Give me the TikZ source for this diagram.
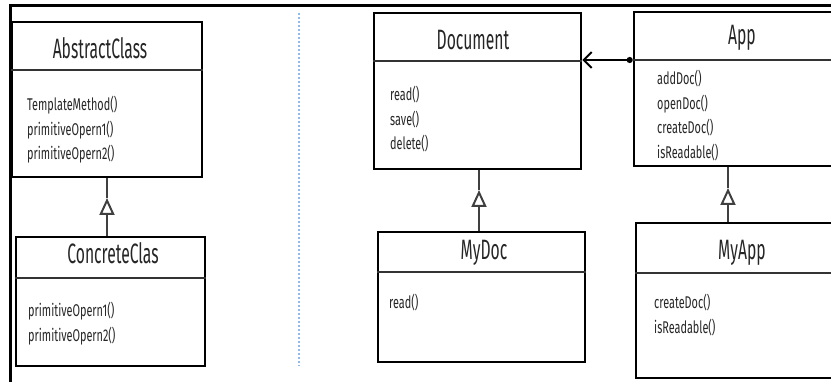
\documentclass[tikz,border=0pt]{standalone}
\usepackage{fontspec}
\usepackage{tikz}
\usetikzlibrary{arrows.meta, positioning}
\newfontfamily\titlefont{Fira Sans}[FakeStretch=0.56]
\newfontfamily\opfont{Fira Sans}[FakeStretch=0.64]
\definecolor{inkgray}{HTML}{262626}
\definecolor{sepblue}{HTML}{8DBBEA}

\begin{document}
\begin{tikzpicture}[x=1pt, y=-1pt, >=Stealth,
    cls/.style={rectangle, draw=black, line width=2.6pt, inner sep=0pt},
    clstitle/.style={anchor=base, inner sep=0pt, text=inkgray, font=\titlefont\fontsize{28}{32}\selectfont},
    ops/.style={anchor=north west, inner sep=0pt, align=left, text=inkgray, font=\opfont\fontsize{17}{24.5}\selectfont},
    divider/.style={line width=1.5pt, draw=black!80},
    gen/.style={line width=1.6pt, draw=black!75, -{Triangle[open, length=17pt, width=15pt, line width=2pt]}},
    genline/.style={line width=1.6pt, draw=black!75},
    assoc/.style={line width=2pt, {Circle[length=6pt]}-{Straight Barb[length=8pt, width=16pt, line width=2pt]}}]
        \clip (0,0) rectangle (831,382);

        % Frame and separator
        \draw[line width=3pt] (831,5.5) -- (10.5,5.5) -- (10.5,382);
        \draw[sepblue, line width=1.3pt, dash pattern=on 2pt off 2pt] (299,13) -- (299,366);

        % Classes
        \node[cls, minimum width=190, minimum height=155] (abs) at (107,99.5) {};
        \node[cls, minimum width=189, minimum height=129] (conc) at (110.5,301.5) {};
        \node[cls, minimum width=207, minimum height=156] (doc) at (477.5,91) {};
        \node[cls, minimum width=207, minimum height=130] (mydoc) at (481.5,297) {};
        \node[cls, minimum width=216, minimum height=154] (app) at (742,89) {};
        \node[cls, minimum width=214, minimum height=155] (myapp) at (743,300.5) {};

        % Dividers
        \draw[divider] (abs.west |- 0,70) -- (abs.east |- 0,70);
        \draw[divider] (conc.west |- 0,278) -- (conc.east |- 0,278);
        \draw[divider] (doc.west |- 0,61) -- (doc.east |- 0,61);
        \draw[divider] (mydoc.west |- 0,272) -- (mydoc.east |- 0,272);
        \draw[divider] (app.west |- 0,60) coordinate (appdiv) -- (app.east |- 0,60);
        \draw[divider] (myapp.west |- 0,273) -- (myapp.east |- 0,273);

        % Class names
        \node[clstitle] (abstitle) at (100,59) {AbstractClass};
        \node[clstitle] (conctitle) at (113,264) {ConcreteClas};
        \node[clstitle] (doctitle) at (473,50) {Document};
        \node[clstitle] (mydoctitle) at (484,260) {MyDoc};
        \node[clstitle] (apptitle) at (742,45) {App};
        \node[clstitle] (myapptitle) at (742,260) {MyApp};

        % Operations
        \node[ops] (absops) at (27,96) {TemplateMethod()\\primitiveOpern1()\\primitiveOpern2()};
        \node[ops] (concops) at (28,302) {primitiveOpern1()\\primitiveOpern2()};
        \node[ops] (docops) at (390,86) {read()\\save()\\delete()};
        \node[ops] (mydocops) at (389,294) {read()};
        \node[ops] (appops) at (657,70) {addDoc()\\openDoc()\\createDoc()\\isReadable()};
        \node[ops] (myappops) at (654,294) {createDoc()\\isReadable()};

        % Generalisations
        \coordinate (abstip) at (107,198);
        \coordinate (doctip) at (479,190);
        \coordinate (apptip) at (728,188);
        \draw[gen] (conc.north -| abstip) -- (abstip);
        \draw[genline] (abstip) -- (abs.south -| abstip);
        \draw[gen] (mydoc.north -| doctip) -- (doctip);
        \draw[genline] (doctip) -- (doc.south -| doctip);
        \draw[gen] (myapp.north -| apptip) -- (apptip);
        \draw[genline] (apptip) -- (app.south -| apptip);

        % Association
        \draw[assoc] (appdiv) -- (doc.east |- appdiv);
    \end{tikzpicture}
\end{document}
